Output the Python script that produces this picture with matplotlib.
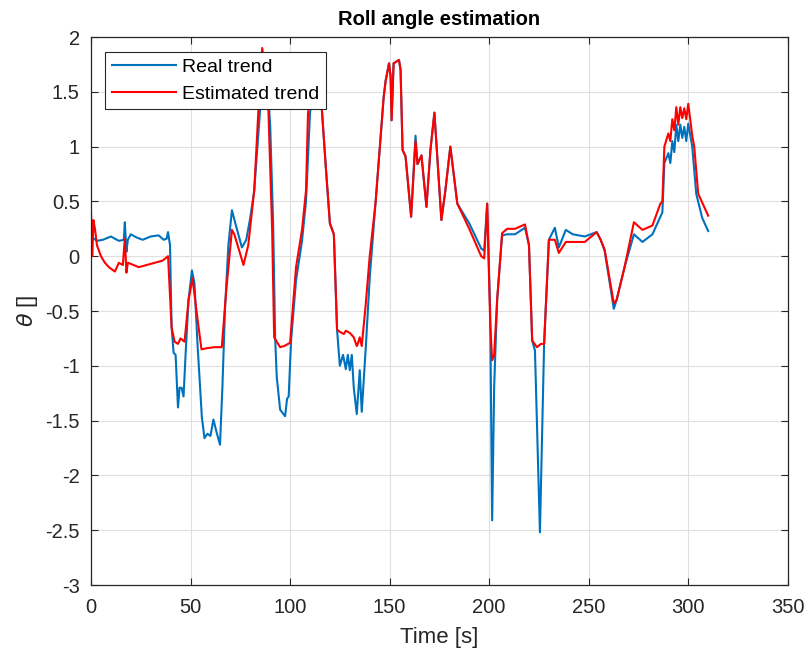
import matplotlib
matplotlib.use("Agg")
import matplotlib.pyplot as plt
from matplotlib.ticker import FuncFormatter

plt.rcParams["font.family"] = ["Liberation Sans", "DejaVu Sans"]
plt.rcParams["axes.unicode_minus"] = False

# real roll angle
real_t = [0, 1.5, 3, 6, 10, 12, 14, 16.5, 17, 17.8, 18.5, 20, 23, 26, 30, 34,
          36.5, 38, 38.7, 39.7, 40.5, 41.5, 42.5, 43.7, 44.5, 45.5, 46.5, 47.5,
          49, 50.7, 52, 53.5, 55.7, 57, 58.5, 60, 61.5, 63, 64.8, 66, 67.3, 69,
          70.8, 72.5, 75.8, 78, 80, 82, 84, 86, 88, 90, 91.5, 92.5, 93.3, 95,
          97.5, 98.5, 99.3, 100.5, 103, 106, 108, 110, 112, 114, 116, 118, 120,
          122, 123.6, 125, 126.6, 128, 129, 130, 131, 132, 133.5, 135, 136, 138,
          140, 143, 146, 147, 148, 149.7, 150.5, 151, 152, 154.7, 155.5, 156.5,
          158, 160.8, 163, 164, 166, 168.5, 170.5, 172.5, 176, 178, 180.5, 184,
          190, 196, 197.5, 199, 200.5, 201.5, 202.5, 204, 206.5, 209, 213, 218,
          220, 221.6, 223, 225.5, 227.6, 230, 233, 235, 238.5, 242, 248, 254,
          256, 258, 262.6, 264, 268, 272.7, 277, 282, 286, 287, 288, 290, 291,
          292, 293, 294, 295, 296, 297, 298, 299, 300, 302, 304, 307, 310]
real_theta = [0.15, 0.16, 0.14, 0.15, 0.18, 0.16, 0.14, 0.15, 0.31, 0.04, 0.15,
              0.2, 0.17, 0.15, 0.18, 0.19, 0.15, 0.16, 0.22, 0.1, -0.65, -0.88,
              -0.9, -1.38, -1.2, -1.2, -1.28, -0.9, -0.4, -0.13, -0.25, -0.8,
              -1.47, -1.66, -1.62, -1.64, -1.49, -1.6, -1.72, -1.2, -0.49, 0.1,
              0.42, 0.3, 0.08, 0.15, 0.35, 0.6, 1.1, 1.6, 1.75, 1.2, 0.3, -0.74,
              -1.1, -1.4, -1.46, -1.3, -1.28, -0.77, -0.22, 0.14, 0.5, 1.3, 1.6,
              1.65, 1.33, 0.8, 0.3, 0.2, -0.67, -1.0, -0.9, -1.03, -0.9, -1.04,
              -0.9, -1.2, -1.44, -1.04, -1.42, -0.84, -0.2, 0.5, 1.21, 1.45, 1.6,
              1.76, 1.64, 1.24, 1.76, 1.79, 1.7, 0.97, 0.91, 0.36, 1.1, 0.84,
              0.92, 0.45, 0.97, 1.31, 0.33, 0.6, 1.0, 0.48, 0.3, 0.07, 0.05,
              0.48, -0.5, -2.41, -1.2, -0.4, 0.19, 0.2, 0.2, 0.26, 0.1, -0.77,
              -0.86, -2.52, -0.8, 0.15, 0.26, 0.08, 0.24, 0.2, 0.18, 0.22, 0.15,
              0.05, -0.48, -0.4, -0.1, 0.2, 0.13, 0.2, 0.36, 0.4, 0.85, 0.94,
              0.85, 1.05, 0.95, 1.2, 1.05, 1.2, 1.08, 1.18, 1.05, 1.21, 1.0,
              0.57, 0.35, 0.23]

# estimated roll angle
est_t = [0, 0.7, 1.2, 2, 3, 5, 7, 9, 12, 14, 16, 17, 17.8, 18.5, 20, 24, 28,
         32, 36, 38.7, 40.5, 42, 43.7, 45, 47, 49, 51, 53, 55.5, 58, 62, 65.7,
         68, 70.8, 72, 76.6, 79, 82, 84, 86, 87, 89, 91, 92, 95, 97, 100, 103,
         106, 108, 109, 111, 113, 115, 116, 118, 120, 122, 123.6, 125, 127,
         128, 130, 132, 133.5, 134, 135, 136, 138, 140, 143, 146, 147, 148,
         149.7, 150.5, 151, 152, 154.7, 155.5, 156.5, 158, 160.8, 163, 164,
         166, 168.5, 170.5, 172.5, 176, 178, 180.5, 184, 190, 196, 197.5, 199,
         200.5, 201.5, 202.5, 204, 206.5, 209, 213, 218, 220, 221.6, 224, 226,
         227.6, 230, 233, 235, 238.5, 242, 248, 254, 256, 258, 262.6, 264, 268,
         272.7, 277, 282, 286, 287, 288, 290, 291, 292, 293, 294, 295, 296,
         297, 298, 299, 300, 302, 303, 305, 310]
est_theta = [0.4, 0.0, 0.33, 0.25, 0.1, 0.0, -0.06, -0.1, -0.14, -0.06, -0.08,
             0.16, -0.15, -0.06, -0.07, -0.1, -0.08, -0.06, -0.04, 0.0, -0.65,
             -0.78, -0.8, -0.75, -0.78, -0.4, -0.2, -0.5, -0.85, -0.84, -0.83,
             -0.83, -0.3, 0.24, 0.2, -0.08, 0.1, 0.6, 1.3, 1.9, 1.75, 1.4, 0.24,
             -0.74, -0.83, -0.82, -0.79, -0.1, 0.24, 0.6, 1.3, 1.6, 1.7, 1.55,
             1.33, 0.8, 0.3, 0.2, -0.67, -0.69, -0.71, -0.68, -0.7, -0.74,
             -0.82, -0.8, -0.74, -0.82, -0.44, 0.0, 0.5, 1.21, 1.45, 1.6, 1.76,
             1.64, 1.24, 1.76, 1.79, 1.7, 0.97, 0.91, 0.36, 1.05, 0.84, 0.92,
             0.45, 0.97, 1.31, 0.33, 0.6, 1.0, 0.48, 0.25, 0.0, -0.02, 0.48,
             -0.6, -0.95, -0.9, -0.4, 0.21, 0.25, 0.25, 0.29, 0.1, -0.77, -0.83,
             -0.8, -0.8, 0.15, 0.15, 0.03, 0.13, 0.13, 0.13, 0.22, 0.15, 0.06,
             -0.43, -0.4, -0.1, 0.31, 0.24, 0.28, 0.48, 0.5, 1.0, 1.12, 1.05,
             1.25, 1.15, 1.36, 1.2, 1.36, 1.26, 1.35, 1.25, 1.39, 1.1, 1.0,
             0.57, 0.37]

x_ticks = [0, 50, 100, 150, 200, 250, 300, 350]
y_ticks = [-3, -2.5, -2, -1.5, -1, -0.5, 0, 0.5, 1, 1.5, 2]

fig = plt.figure(figsize=(8.08, 6.54), dpi=100)
ax = fig.add_axes([0.1126, 0.1055, 0.8624, 0.8379])

ax.plot(real_t, real_theta, color="#0072BD", lw=1.5, label="Real trend")
ax.plot(est_t, est_theta, color="#FF0000", lw=1.5, label="Estimated trend")

ax.set_xlim(0, 350)
ax.set_ylim(-3, 2)
ax.set_xticks(x_ticks)
ax.set_yticks(y_ticks)
ax.yaxis.set_major_formatter(FuncFormatter(lambda v, p: f"{v:g}"))
ax.grid(True, color="#DFDFDF", lw=0.8)
ax.set_axisbelow(True)
ax.tick_params(direction="in", length=5, labelsize=14.5, colors="#262626",
               top=True, right=True, labeltop=False, labelright=False)
ax.tick_params(axis="x", pad=9.5)
ax.tick_params(axis="y", pad=8)
for s in ax.spines.values():
    s.set_color("#262626")
    s.set_linewidth(0.9)

ax.set_title("Roll angle estimation", fontsize=14.5, fontweight="bold", pad=8.5)
ax.set_xlabel("Time [s]", fontsize=16, color="#262626", labelpad=7)
ax.set_ylabel(r"$\theta$ []", fontsize=16, color="#262626", labelpad=4)

leg = ax.legend(loc="upper left", bbox_to_anchor=(0.02, 0.973), fontsize=14,
                handlelength=3.3, fancybox=False, framealpha=1,
                borderpad=0.35, labelspacing=0.45, handletextpad=0.3,
                borderaxespad=0)
leg.get_frame().set_edgecolor("#262626")
leg.get_frame().set_linewidth(0.8)

fig.savefig("out.png", dpi=100)
